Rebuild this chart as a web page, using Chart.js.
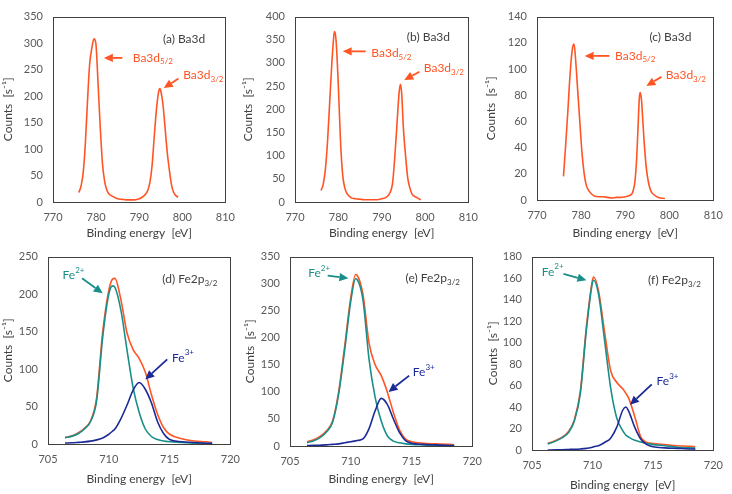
<!DOCTYPE html>
<html>
<head>
<meta charset="utf-8">
<script src="https://cdn.jsdelivr.net/npm/chart.js@4"></script>
<style>
  html, body { margin: 0; padding: 0; background: #fff; }
  #wrap { position: relative; width: 732px; height: 494px; overflow: hidden; }
  canvas { position: absolute; }
</style>
</head>
<body>
<div id="wrap"></div>
<script>
// Ba3d spectra (top row)
const baX_a = [776, 776.5, 777, 777.5, 778, 778.5, 779, 779.5, 779.8, 780, 780.5, 781, 781.5, 782, 782.5, 783, 784, 785, 786, 787, 788, 789, 790, 790.5, 791, 791.5, 792, 792.5, 793, 793.5, 794, 794.5, 794.8, 795, 795.5, 796, 796.5, 797, 797.5, 798, 798.5, 799];
const baY_a = [18, 30, 55, 110, 190, 260, 290, 308, 305, 295, 216, 135, 70, 38, 22, 15, 10, 6, 5, 4, 4, 4, 6, 8, 11, 15, 22, 38, 70, 125, 175, 208, 214, 210, 185, 140, 94, 60, 32, 18, 12, 9];

const baX_b = [776, 776.5, 777, 777.5, 778, 778.5, 779, 779.2, 779.5, 780, 780.5, 781, 781.5, 782, 783, 784, 785, 786, 787, 788, 789, 790, 791, 791.5, 792, 792.5, 793, 793.5, 794, 794.3, 794.6, 795, 795.5, 796, 796.5, 797, 798, 799];
const baY_b = [25, 38, 70, 130, 215, 300, 362, 368, 345, 250, 130, 58, 30, 18, 9, 7, 6, 5, 5, 5, 5, 7, 10, 14, 22, 40, 95, 165, 235, 254, 235, 160, 100, 52, 30, 17, 10, 5];

const baX_c = [776, 776.5, 777, 777.5, 778, 778.4, 778.8, 779.2, 779.7, 780.2, 780.7, 781.2, 782, 783, 784, 785, 786, 787, 788, 789, 790, 791, 791.7, 792.2, 792.6, 792.9, 793.2, 793.4, 793.7, 794, 794.3, 794.8, 795.3, 795.8, 796.5, 797.5, 799];
const baY_c = [18, 42, 68, 96, 115, 119, 105, 85, 60, 36, 20, 11, 6, 3, 2.5, 2.5, 2, 1.5, 2, 2, 2.5, 3.5, 6, 14, 32, 55, 78, 82, 76, 60, 44, 24, 13, 7, 4, 2, 1.2];

// Fe2p3/2 spectra (bottom row): total, Fe2+ and Fe3+ components
const feX_d = [706.4, 707, 707.5, 708, 708.5, 709, 709.5, 710, 710.3, 710.5, 711, 711.5, 712, 712.5, 713, 713.5, 714, 714.5, 715, 716, 717, 718, 718.5];
const feTotal_d = [8.6, 11, 15, 21, 31, 62, 150, 205, 220, 221, 192, 148, 126, 114, 96, 66, 40, 22, 13, 7, 4, 3, 2];
const feII_d = [8.2, 10.5, 14, 20, 30, 58, 143, 200, 211, 209, 178, 125, 75, 42, 20, 10, 6, 4, 3, 2, 1, 0.5, 0.5];
const feIII_d = [1.3, 1.6, 2.2, 2.8, 3.8, 5.5, 8, 13, 17, 20, 34, 52, 72, 82, 73, 55, 30, 14, 6, 3, 2, 1, 1];

const feX_e = [706.4, 707, 707.5, 708, 708.5, 709, 709.5, 710, 710.4, 710.5, 711, 711.5, 712, 712.5, 713, 713.5, 714, 714.5, 715, 716, 717, 718, 718.5];
const feTotal_e = [8, 12, 18, 28, 46, 100, 185, 275, 317, 316, 280, 190, 150, 130, 100, 62, 30, 13, 8, 5, 4, 3, 2.4];
const feII_e = [6, 10, 16, 26, 44, 96, 178, 268, 309, 308, 270, 160, 90, 46, 19, 9, 6, 4, 3, 2, 1, 1, 1];
const feIII_e = [1, 1.2, 1.5, 2, 3, 4, 6, 8, 9.5, 10, 13, 32, 65, 88, 77, 50, 25, 10, 5, 3, 2, 1, 1];

const feX_f = [706.3, 707, 707.5, 708, 708.5, 709, 709.5, 710, 710.1, 710.5, 711, 711.5, 712, 712.5, 712.75, 713, 713.5, 714, 714.5, 715, 716, 717, 718, 718.5];
const feTotal_f = [6, 9, 12, 17, 28, 55, 115, 158, 161, 148, 110, 74, 63, 57, 53, 48, 31, 12, 7, 6, 5, 4, 3.4, 3];
const feII_f = [5.5, 8.5, 11.5, 16, 27, 53, 112, 156, 158, 145, 102, 58, 30, 18, 14, 12, 9, 7.5, 6, 5, 4, 2.6, 2, 1.8];
const feIII_f = [0, 0.2, 0.3, 0.5, 0.7, 1, 1.5, 2.5, 3, 4, 7, 11, 21, 37, 40, 36, 21, 10, 5, 3, 2, 1.5, 1, 0.8];

const xTitle = "Binding energy  [eV]";
const yTitle = "Counts  [s\u207B\u00B9]";

const ORANGE = "#FF5424";
const TEAL = "#1A8F8A";
const NAVY = "#1C2A95";
const DARK = "#404040";
const FONT = "Lato, 'Open Sans', sans-serif";

function pts(xs, ys) {
  return xs.map((x, i) => ({ x, y: ys[i] }));
}

function line(xs, ys, color) {
  return {
    data: pts(xs, ys),
    showLine: true,
    borderColor: color,
    borderWidth: 1.6,
    pointRadius: 0,
    cubicInterpolationMode: "monotone",
  };
}

const baLabel = (sub) => [{ t: "Ba3d" }, { t: sub, sub: true }];
const feLabel = (sup) => [{ t: "Fe" }, { t: sup, sup: true }];

// notes: panel titles, peak names and arrows, placed in data coordinates
const panels = [
  {
    box: [0, 0, 244, 241], padTop: 10, padRight: 12, yW: 53, xH: 39,
    x: [770, 810, 10], y: [0, 350, 50],
    series: [line(baX_a, baY_a, ORANGE)],
    labels: [
      { at: [795.5, 308], color: DARK, parts: [{ t: "(a) Ba3d" }] },
      { at: [788.5, 272], color: ORANGE, parts: baLabel("5/2") },
      { at: [800.2, 239], color: ORANGE, parts: baLabel("3/2") },
    ],
    arrows: [
      { from: [786.1, 272], to: [781.8, 272], color: ORANGE },
      { from: [799.1, 233], to: [795.7, 215], color: ORANGE },
    ],
  },
  {
    box: [240, 0, 247, 241], padTop: 7, padRight: 12, yW: 55, xH: 39,
    x: [770, 810, 10], y: [0, 400, 50],
    series: [line(baX_b, baY_b, ORANGE)],
    labels: [
      { at: [795.8, 356], color: DARK, parts: [{ t: "(b) Ba3d" }] },
      { at: [787.6, 321], color: ORANGE, parts: baLabel("5/2") },
      { at: [799.7, 288], color: ORANGE, parts: baLabel("3/2") },
    ],
    arrows: [
      { from: [786.3, 325], to: [781, 325], color: ORANGE },
      { from: [798.7, 281], to: [795.2, 263], color: ORANGE },
    ],
  },
  {
    box: [483, 0, 249, 241], padTop: 6, padRight: 12, yW: 54, xH: 41,
    x: [770, 810, 10], y: [0, 140, 20],
    series: [line(baX_c, baY_c, ORANGE)],
    labels: [
      { at: [795.5, 124], color: DARK, parts: [{ t: "(c) Ba3d" }] },
      { at: [787.7, 110], color: ORANGE, parts: baLabel("5/2") },
      { at: [799.2, 95], color: ORANGE, parts: baLabel("3/2") },
    ],
    arrows: [
      { from: [786.4, 110], to: [780.8, 110], color: ORANGE },
      { from: [798.2, 94], to: [794.8, 87], color: ORANGE },
    ],
  },
  {
    box: [0, 240, 249, 247], padTop: 10, padRight: 12, yW: 48, xH: 43,
    x: [705, 720, 5], y: [0, 250, 50],
    series: [line(feX_d, feIII_d, NAVY), line(feX_d, feII_d, TEAL), line(feX_d, feTotal_d, ORANGE)],
    labels: [
      { at: [714.4, 220], color: DARK, parts: [{ t: "(d) Fe2p" }, { t: "3/2", sub: true }] },
      { at: [706.2, 225], color: TEAL, parts: feLabel("2+") },
      { at: [715.2, 115], color: NAVY, parts: feLabel("3+") },
    ],
    arrows: [
      { from: [707.8, 221], to: [709.5, 201], color: TEAL },
      { from: [714.8, 113], to: [713, 86], color: NAVY },
    ],
  },
  {
    box: [242, 240, 249, 247], padTop: 11, padRight: 12, yW: 48, xH: 41,
    x: [705, 720, 5], y: [0, 350, 50],
    series: [line(feX_e, feIII_e, NAVY), line(feX_e, feII_e, TEAL), line(feX_e, feTotal_e, ORANGE)],
    labels: [
      { at: [714.5, 310], color: DARK, parts: [{ t: "(e) Fe2p" }, { t: "3/2", sub: true }] },
      { at: [706.5, 319], color: TEAL, parts: feLabel("2+") },
      { at: [715.1, 136], color: NAVY, parts: feLabel("3+") },
    ],
    arrows: [
      { from: [708.1, 315], to: [709.8, 310], color: TEAL },
      { from: [714.8, 130], to: [713.1, 100], color: NAVY },
    ],
  },
  {
    box: [485, 240, 247, 253], padTop: 9, padRight: 11, yW: 47, xH: 43,
    x: [705, 720, 5], y: [0, 180, 20],
    series: [line(feX_f, feIII_f, NAVY), line(feX_f, feII_f, TEAL), line(feX_f, feTotal_f, ORANGE)],
    labels: [
      { at: [714.6, 158], color: DARK, parts: [{ t: "(f) Fe2p" }, { t: "3/2", sub: true }] },
      { at: [705.8, 166], color: TEAL, parts: feLabel("2+") },
      { at: [715.3, 64], color: NAVY, parts: feLabel("3+") },
    ],
    arrows: [
      { from: [707.6, 164], to: [709.5, 158], color: TEAL },
      { from: [714.9, 61], to: [713.1, 42], color: NAVY },
    ],
  },
];

const notesPlugin = {
  id: "notes",
  beforeDatasetsDraw(chart) {
    const { ctx, chartArea: a } = chart;
    ctx.save();
    ctx.strokeStyle = DARK;
    ctx.lineWidth = 1;
    ctx.strokeRect(Math.round(a.left) + 0.5, Math.round(a.top) + 0.5,
      Math.round(a.right - a.left), Math.round(a.bottom - a.top));
    ctx.restore();
  },
  afterDatasetsDraw(chart, args, opts) {
    const { ctx } = chart;
    const sx = chart.scales.x;
    const sy = chart.scales.y;
    ctx.save();
    (opts.arrows || []).forEach((ar) => {
      const x1 = sx.getPixelForValue(ar.from[0]);
      const y1 = sy.getPixelForValue(ar.from[1]);
      const x2 = sx.getPixelForValue(ar.to[0]);
      const y2 = sy.getPixelForValue(ar.to[1]);
      const ang = Math.atan2(y2 - y1, x2 - x1);
      const head = 9;
      const half = 4.2;
      const bx = x2 - head * Math.cos(ang);
      const by = y2 - head * Math.sin(ang);
      ctx.strokeStyle = ar.color;
      ctx.fillStyle = ar.color;
      ctx.lineWidth = 1.8;
      ctx.beginPath();
      ctx.moveTo(x1, y1);
      ctx.lineTo(bx, by);
      ctx.stroke();
      ctx.beginPath();
      ctx.moveTo(x2, y2);
      ctx.lineTo(bx + half * Math.sin(ang), by - half * Math.cos(ang));
      ctx.lineTo(bx - half * Math.sin(ang), by + half * Math.cos(ang));
      ctx.closePath();
      ctx.fill();
    });
    (opts.labels || []).forEach((lb) => {
      let px = sx.getPixelForValue(lb.at[0]);
      const py = sy.getPixelForValue(lb.at[1]);
      ctx.fillStyle = lb.color;
      ctx.textAlign = "left";
      ctx.textBaseline = "middle";
      lb.parts.forEach((p) => {
        const small = p.sub || p.sup;
        ctx.font = `${small ? 8 : 12}px ${FONT}`;
        const dy = p.sub ? 4 : p.sup ? -5 : 0;
        ctx.fillText(p.t, px, py + dy);
        px += ctx.measureText(p.t).width;
      });
    });
    ctx.restore();
  },
};

function makeChart(p) {
  const wrap = document.getElementById("wrap");
  const canvas = document.createElement("canvas");
  const [left, top, w, h] = p.box;
  canvas.width = w;
  canvas.height = h;
  canvas.style.left = left + "px";
  canvas.style.top = top + "px";
  canvas.style.width = w + "px";
  canvas.style.height = h + "px";
  wrap.appendChild(canvas);

  const tickFont = { family: FONT, size: 11 };
  const titleFont = { family: FONT, size: 12 };

  return new Chart(canvas.getContext("2d"), {
    type: "scatter",
    data: { datasets: p.series },
    options: {
      responsive: false,
      animation: false,
      devicePixelRatio: 1,
      layout: { padding: { top: p.padTop, right: p.padRight, left: 0, bottom: 0 } },
      plugins: {
        legend: { display: false },
        tooltip: { enabled: false },
        notes: { labels: p.labels, arrows: p.arrows },
      },
      scales: {
        x: {
          type: "linear",
          min: p.x[0],
          max: p.x[1],
          grid: { display: false, drawTicks: false },
          border: { display: false },
          ticks: { stepSize: p.x[2], color: "#595959", font: tickFont, padding: 9, maxRotation: 0 },
          title: { display: true, text: xTitle, color: DARK, font: titleFont, padding: { top: 0, bottom: 1 } },
          afterFit(scale) { scale.height = p.xH; },
        },
        y: {
          type: "linear",
          min: p.y[0],
          max: p.y[1],
          grid: { display: false, drawTicks: false },
          border: { display: false },
          ticks: { stepSize: p.y[2], color: "#595959", font: tickFont, padding: 10 },
          title: { display: true, text: yTitle, color: DARK, font: titleFont, padding: { top: 1, bottom: 0 } },
          afterFit(scale) { scale.width = p.yW; },
        },
      },
    },
    plugins: [notesPlugin],
  });
}

panels.forEach(makeChart);
</script>
</body>
</html>
